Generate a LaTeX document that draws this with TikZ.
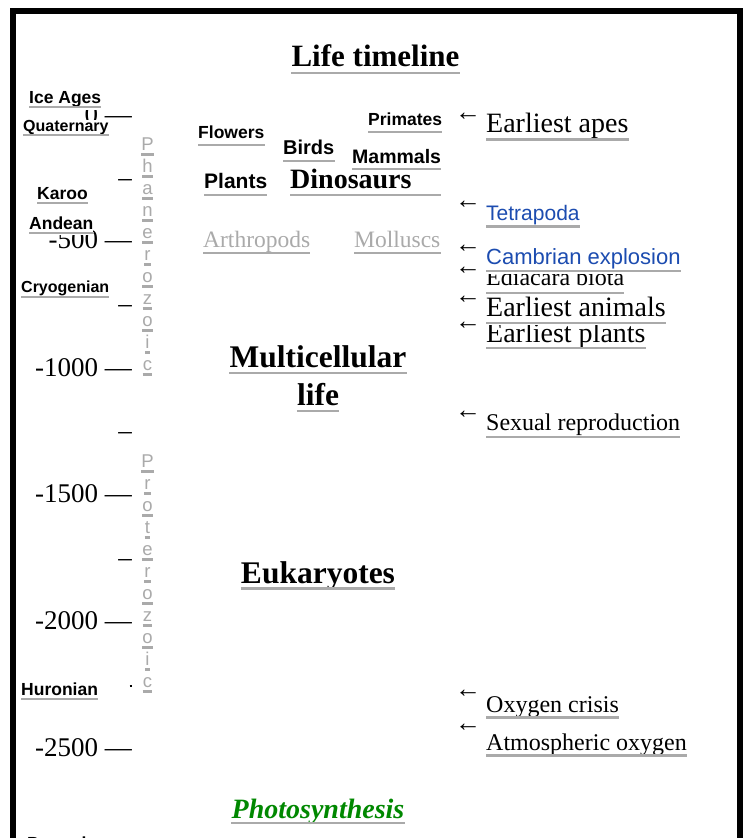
\documentclass[tikz,border=0pt]{standalone}
\usepackage{fontspec}
\setmainfont{Liberation Serif}
\setsansfont{Liberation Sans}
\definecolor{lgray}{RGB}{170,170,170}
\definecolor{lblue}{RGB}{28,76,176}
\definecolor{lgreen}{RGB}{0,136,0}
\newcommand{\fsz}[1]{\fontsize{#1}{#1}\selectfont}
\begin{document}
\begin{tikzpicture}[x=1pt,y=-1pt,
  uline/.style={draw=lgray,line width=2.8},
  thinul/.style={draw=lgray,line width=2.2},
  lnk/.style={append after command={([yshift=-#1]\tikzlastnode.base west) edge[uline] ([yshift=-#1]\tikzlastnode.base east)}},
  lnkt/.style={append after command={([yshift=-#1]\tikzlastnode.base west) edge[thinul] ([yshift=-#1]\tikzlastnode.base east)}},
  lbl/.style={inner sep=0,anchor=base west,fill=white},
  ice/.style={lbl,font=\sffamily\bfseries\fsz{#1}},
  bs/.style={lbl,font=\sffamily\bfseries\fsz{#1}},
  ev/.style={lbl,font=\fsz{#1}},
  evs/.style={lbl,font=\sffamily\fsz{#1},text=lblue},
  tk/.style={inner sep=0,anchor=base east,font=\fsz{27}},
  arr/.style={inner sep=0,anchor=center,font=\fsz{26}},
  vl/.style={inner sep=0,anchor=base,font=\sffamily\fsz{18.5},text=lgray},
  big/.style={inner sep=0,anchor=base,font=\bfseries\fsz{31.5}}
]
\useasboundingbox (0,0) rectangle (745,838);
\clip (0,0) rectangle (745,838);
\fill[white] (0,0) rectangle (745,838);
\draw[line width=6,miter limit=10] (12.5,870) -- (12.5,11) -- (739.5,11) -- (739.5,870);

% title
\node[inner sep=0,anchor=base,font=\bfseries\fsz{31},lnk=7] (title) at (375.5,66) {Life timeline};

% time scale
\node[tk] (m0) at (132,123) {0 —};
\node[tk] (m250) at (132,186) {–};
\node[tk] (m500) at (132,248) {-500 —};
\node[tk] (m750) at (132,312) {–};
\node[tk] (m1000) at (132,376) {-1000 —};
\node[tk] (m1250) at (132,439) {–};
\node[tk] (m1500) at (132,502) {-1500 —};
\node[tk] (m1750) at (132,566) {–};
\node[tk] (m2000) at (132,629) {-2000 —};
\draw[line width=1.4] (129.5,686) -- (132,686);
\node[tk] (m2500) at (132,756) {-2500 —};

% ice ages
\node[ice=17.5,text depth=7,lnk=4] (iceages) at (29,103) {Ice Ages};
\node[ice=16,lnk=4] (quat) at (23,131) {Quaternary};
\node[ice=17.5,lnk=4] (karoo) at (37,199) {Karoo};
\node[ice=17.5,text depth=6,lnk=4] (andean) at (29,229) {Andean};
\node[ice=16,lnk=5] (cryo) at (21,292) {Cryogenian};
\node[ice=17.5,lnk=4] (huron) at (21,695) {Huronian};
\node[ice=17.5] (pongola) at (27,849) {Pongola};

% eons
\foreach \c [count=\i from 0] in {P,h,a,n,e,r,o,z,o,i,c}
  \node[vl,lnkt=4.5] (pha\i) at (147.5,150+22*\i) {\c};
\foreach \c [count=\i from 0] in {P,r,o,t,e,r,o,z,o,i,c}
  \node[vl,lnkt=4.5] (pro\i) at (147.5,467+22*\i) {\c};

% groups
\node[bs=17.5,lnk=7] (flowers) at (198,138) {Flowers};
\node[bs=21,lnk=7] (plants) at (204,188) {Plants};
\node[lbl,font=\bfseries\fsz{28}] (dino) at (290,188) {Dinosaurs};
\draw[uline] ([yshift=-7]dino.base west) -- ([xshift=29,yshift=-7]dino.base east);
\node[bs=20,lnk=7] (birds) at (283,154) {Birds};
\node[bs=17.5,lnk=7] (primates) at (368,125) {Primates};
\node[bs=19.5,lnk=6] (mammals) at (352,163) {Mammals};
\node[lbl,font=\fsz{23.5},text=lgray,lnk=6] (arthro) at (203,247) {Arthropods};
\node[lbl,font=\fsz{23.5},text=lgray,lnk=6] (mollusc) at (354,247) {Molluscs};

\node[big,lnk=6] (multi) at (318,367) {Multicellular};
\node[big,lnk=6] (life) at (318,405) {life};
\node[big,lnk=5.5] (euk) at (318,583) {Eukaryotes};
\node[inner sep=0,anchor=base,font=\bfseries\itshape\fsz{28},text=lgreen,lnk=5] (photo) at (318,818) {Photosynthesis};

% events
\node[ev=28,lnk=7.5] (apes) at (486,132) {Earliest apes};
\node[arr] (a1) at (468,117) {←};
\node[evs=21,lnk=6.5] (tetra) at (486,220) {Tetrapoda};
\node[arr] (a2) at (468,205) {←};
\node[ev=24,lnk=8] (edia) at (486,285) {Ediacara biota};
\node[arr] (a4) at (468,270.5) {←};
\node[evs=22,text depth=10,lnk=7] (cambr) at (486,264) {Cambrian explosion};
\node[arr] (a3) at (468,249) {←};
\node[ev=28,lnk=6] (eplants) at (486,342) {Earliest plants};
\node[arr] (a6) at (468,326) {←};
\node[ev=28,text depth=9,lnk=7] (eanim) at (486,316) {Earliest animals};
\node[arr] (a5) at (468,300) {←};
\node[ev=24,lnk=7] (sexual) at (486,430) {Sexual reproduction};
\node[arr] (a7) at (468,415) {←};
\node[ev=24,lnk=5.5] (oxcrisis) at (486,712) {Oxygen crisis};
\node[arr] (a8) at (468,693.5) {←};
\node[ev=24,lnk=5.5] (atmos) at (486,750) {Atmospheric oxygen};
\node[arr] (a9) at (468,728) {←};
\end{tikzpicture}
\end{document}
